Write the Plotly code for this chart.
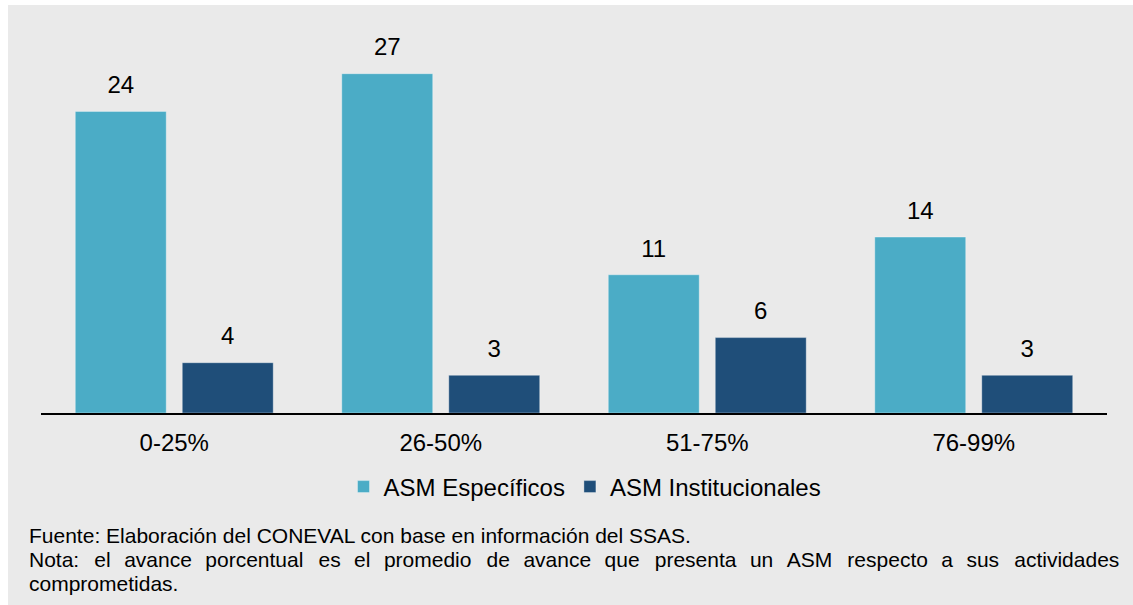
import plotly.graph_objects as go

# ---------------- data ----------------
categories = ["0-25%", "26-50%", "51-75%", "76-99%"]
asm_especificos = [24, 27, 11, 14]
asm_institucionales = [4, 3, 6, 3]
series_names = ["ASM Específicos", "ASM Institucionales"]
series_colors = ["#4BACC6", "#1F4E79"]
fuente_text = "Fuente: Elaboración del CONEVAL con base en información del SSAS."
nota_words = ["Nota:", "el", "avance", "porcentual", "es", "el", "promedio", "de",
              "avance", "que", "presenta", "un", "ASM", "respecto", "a", "sus",
              "actividades"]
nota_last_line = "comprometidas."

# ---------------- geometry ----------------
W, H = 1133, 605
OX, OY = 8, 5                          # page offset of the figure
PL, PR, PT, PB = 41, 1107, 36, 413     # plot area in page pixels
PW, PH = PR - PL, PB - PT
BG = "#EAEAEA"
FONT = "Liberation Sans, Arial, sans-serif"
BARGAP = 0.197
BARGROUPGAP = 0.15


def px_x(x):
    return (x - PL) / PW


def px_y(y):
    return (PB - y) / PH


fig = go.Figure()

all_series = [asm_especificos, asm_institucionales]
for name, vals, col in zip(series_names, all_series, series_colors):
    fig.add_trace(go.Bar(
        x=categories, y=vals, name=name, offsetgroup=name,
        marker=dict(color=col, line=dict(color="rgba(255,255,255,0.35)", width=1)),
        hoverinfo="skip",
    ))

for name, vals in zip(series_names, all_series):
    fig.add_trace(go.Scatter(
        x=categories, y=vals, mode="markers+text", offsetgroup=name,
        text=[str(v) for v in vals], textposition="top center",
        textfont=dict(family=FONT, size=24, color="#000000"),
        marker=dict(size=18, opacity=0),
        showlegend=False, hoverinfo="skip", cliponaxis=False,
    ))

# justified note line: widen the word gaps
parts = [nota_words[0]]
for i, w in enumerate(nota_words[1:]):
    g = "\u00a0\u00a0\u200a" + ("\u200a" if i % 3 == 0 else "")
    parts.append(g + w)
nota_line = "".join(parts)

ann = []
for txt, yc in [(fuente_text, 535.5), (nota_line, 559.5), (nota_last_line, 583.5)]:
    ann.append(dict(
        text=txt, xref="paper", yref="paper", x=px_x(27), y=px_y(yc),
        xanchor="left", yanchor="middle", showarrow=False, align="left",
        font=dict(family=FONT, size=21, color="#000000"),
    ))

fig.update_layout(
    width=W, height=H,
    margin=dict(l=PL - OX, r=W - (PR - OX), t=PT - OY, b=H - (PB - OY), pad=0),
    paper_bgcolor=BG,
    plot_bgcolor=BG,
    barmode="group",
    bargap=BARGAP,
    bargroupgap=BARGROUPGAP,
    scattermode="group",
    scattergap=BARGAP,
    font=dict(family=FONT, size=24, color="#000000"),
    xaxis=dict(
        type="category", showgrid=False, zeroline=False,
        showline=True, linecolor="#000000", linewidth=2,
        ticks="", ticklabelstandoff=7,
        tickfont=dict(family=FONT, size=24, color="#000000"),
    ),
    yaxis=dict(range=[0, 30], visible=False, showgrid=False, zeroline=False),
    legend=dict(
        orientation="h", x=px_x(585), y=px_y(487), xanchor="center", yanchor="middle",
        font=dict(family=FONT, size=24, color="#000000"),
        bgcolor="rgba(0,0,0,0)", traceorder="normal",
    ),
    annotations=ann,
    showlegend=True,
)

fig.write_html(
    "out.html",
    post_script=(
        "document.body.style.margin='%dpx 0 0 %dpx';"
        "document.body.style.overflow='hidden';" % (OY, OX)
    ),
)
